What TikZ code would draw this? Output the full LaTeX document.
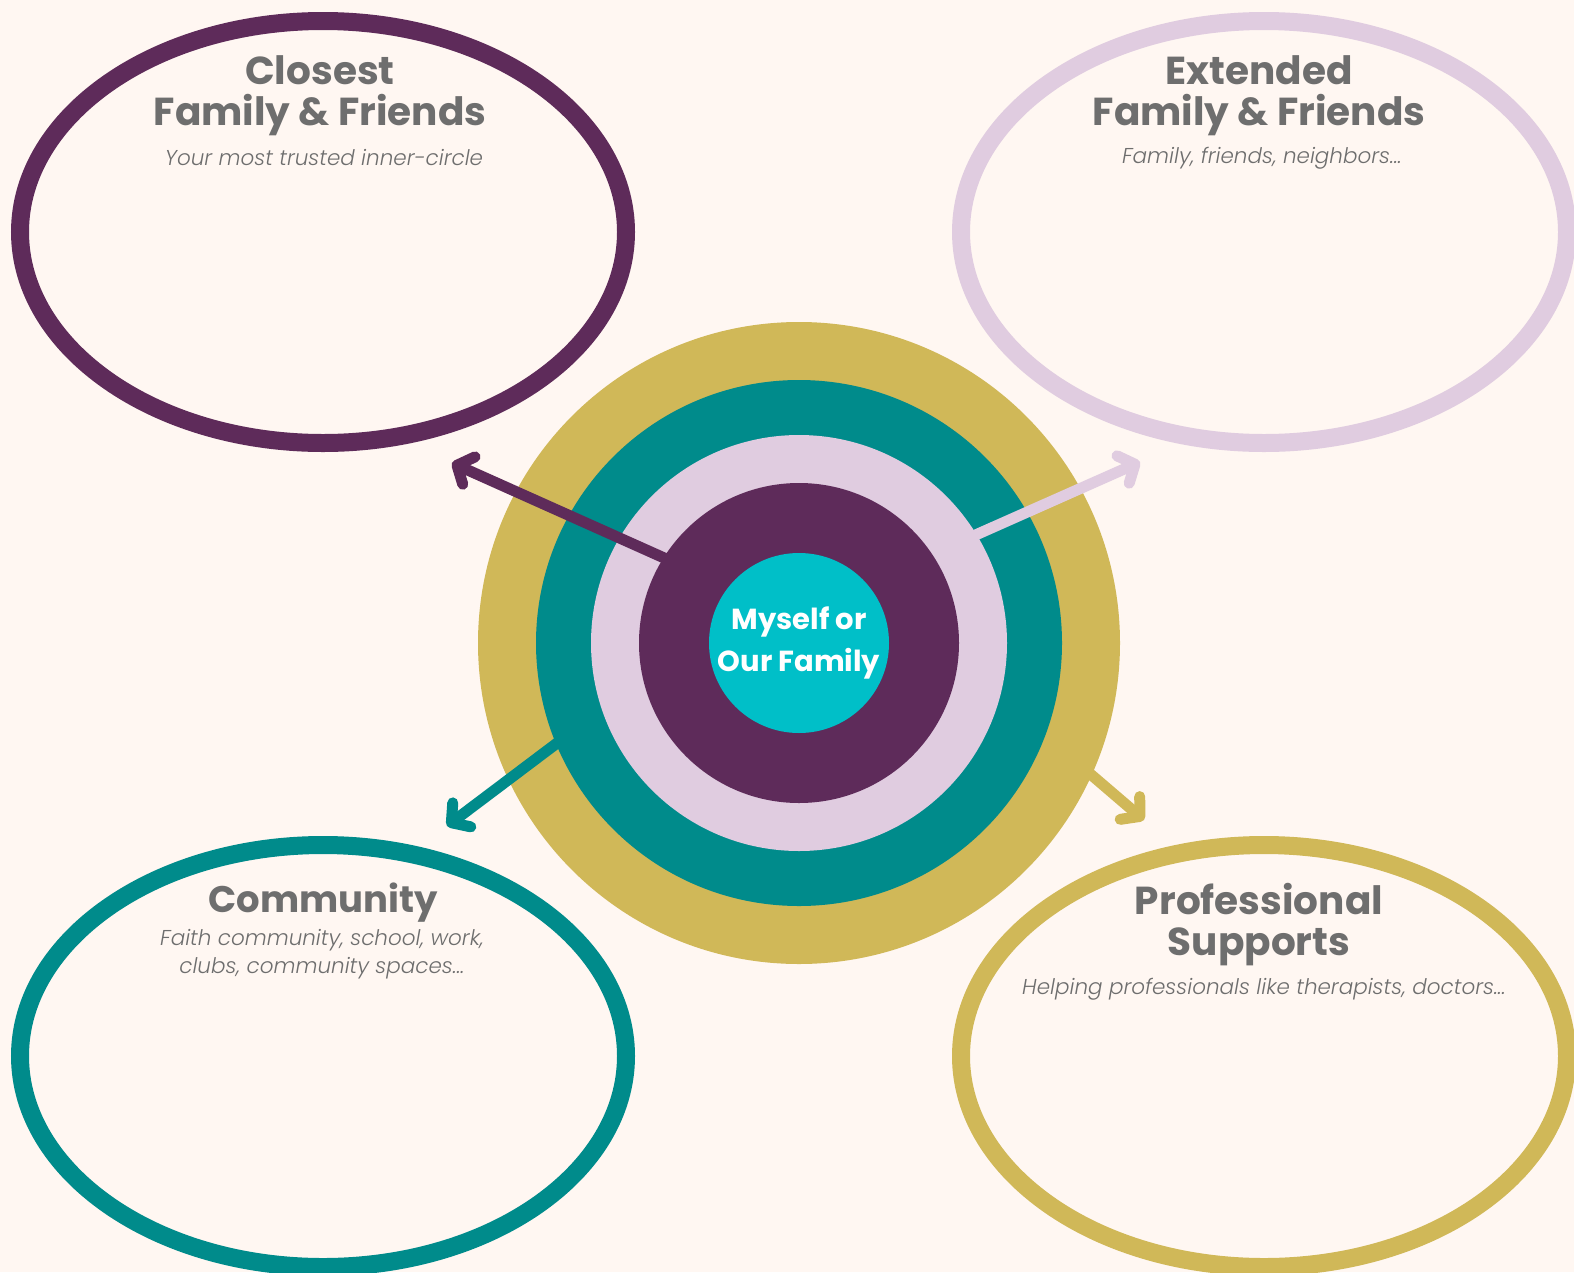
\documentclass[tikz,border=0pt]{standalone}
\usepackage{fontspec}
\setmainfont{Poppins}
\newfontfamily\lightfont{Poppins}[UprightFont=*-Light, ItalicFont=*-LightItalic, BoldFont=*-Bold]
\usetikzlibrary{arrows.meta}
\definecolor{bg}{HTML}{FFF7F2}
\definecolor{cpurple}{HTML}{5E2B5A}
\definecolor{cpink}{HTML}{E0CCE0}
\definecolor{cteal}{HTML}{008B8B}
\definecolor{cgold}{HTML}{D0B858}
\definecolor{ccyan}{HTML}{00BFC8}
\definecolor{ctext}{HTML}{6E6E6E}
\tikzset{
  x=1pt,y=-1pt,
  title/.style={text=ctext, font=\fontsize{39}{41}\selectfont\bfseries, align=center, inner sep=0pt},
  sub/.style={text=ctext, font=\lightfont\fontsize{21.5}{28}\selectfont\itshape, align=center, inner sep=0pt},
  arr/.style={line width=11pt, line cap=round, -{Straight Barb[round,length=13pt,width=30pt]}},
  ringline/.style={line width=18pt},
}
\begin{document}
\begin{tikzpicture}
\fill[bg] (0,0) rectangle (1574,1272);
\useasboundingbox (0,0) rectangle (1574,1272);
% ellipses
\draw[cpurple, ringline] (323,232) ellipse [x radius=303, y radius=211];
\draw[cpink, ringline] (1264,232) ellipse [x radius=303, y radius=211];
\draw[cteal, ringline] (323,1056) ellipse [x radius=303, y radius=211];
\draw[cgold, ringline] (1264,1056) ellipse [x radius=303, y radius=211];
% coordinates
\coordinate (cc) at (799,643);
\coordinate (tl) at (452,463);
\coordinate (tr) at (1140,462);
\coordinate (bl) at (447,826);
\coordinate (br) at (1144,820);
\coordinate (tls) at (700,574);
\coordinate (trs) at (935,553);
\coordinate (bls) at (585,722);
\coordinate (brs) at (1060,748);
% layered circles and arrows
\draw[arr, cgold] (brs) -- (br);
\fill[cgold] (cc) circle (321);
\draw[arr, cteal] (bls) -- (bl);
\fill[cteal] (cc) circle (263);
\draw[arr, cpink] (trs) -- (tr);
\fill[cpink] (cc) circle (208);
\draw[arr, cpurple] (tls) -- (tl);
\fill[cpurple] (cc) circle (160);
\node[circle, fill=ccyan, minimum size=180pt, inner sep=0pt, text=white, align=center,
  font=\fontsize{29}{42}\selectfont\bfseries] (me) at (cc) {Myself or\\Our Family};
% texts
\node[title] (t1) at (320,96) {Closest\\Family \& Friends};
\node[sub] (s1) at (324,158) {Your most trusted inner-circle};
\node[title] (t2) at (1259,96) {Extended\\Family \& Friends};
\node[sub] (s2) at (1262,158) {Family, friends, neighbors...};
\node[title, font=\fontsize{37}{41}\selectfont\bfseries] (t3) at (323,903) {Community};
\node[sub] (s3) at (322,954) {Faith community, school, work,\\clubs, community spaces...};
\node[title] (t4) at (1259,925) {Professional\\Supports};
\node[sub] (s4) at (1264,989) {Helping professionals like therapists, doctors...};
\end{tikzpicture}
\end{document}
